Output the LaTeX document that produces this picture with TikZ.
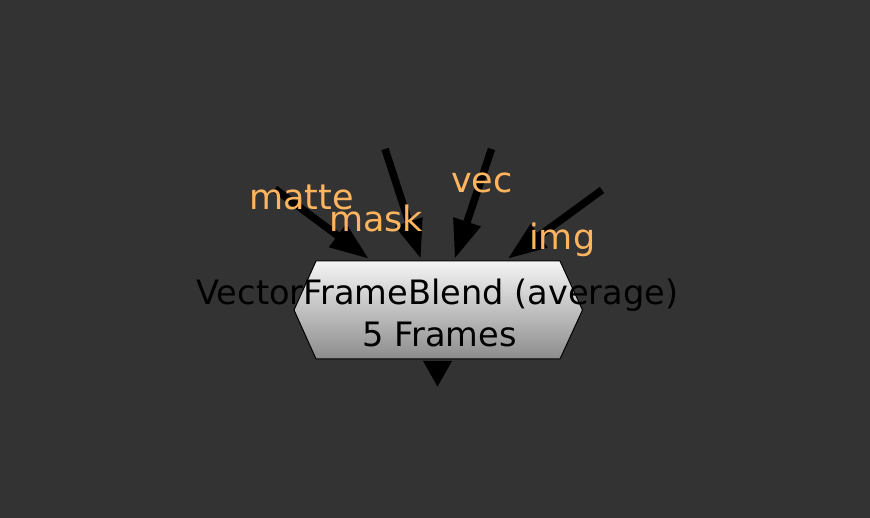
\documentclass[tikz,border=0pt]{standalone}
\usepackage{fontspec}
\setmainfont{DejaVu Sans}
\usetikzlibrary{arrows.meta}
\definecolor{bg}{RGB}{51,51,51}
\definecolor{lbl}{RGB}{255,181,96}
\definecolor{hextop}{RGB}{245,245,245}
\definecolor{hexbot}{RGB}{140,140,140}
\begin{document}
\begin{tikzpicture}[x=1pt,y=-1pt,
  edge/.style={line width=7.5pt, line cap=butt, -{Triangle[length=39pt,width=27pt]}},
  outedge/.style={line width=7.5pt, line cap=butt, -{Triangle[length=26pt,width=27pt]}},
  lab/.style={text=lbl, font=\fontsize{35}{40}\selectfont, anchor=base west, inner sep=0pt},
  maintxt/.style={text=black, font=\fontsize{33.6}{40}\selectfont, anchor=base, inner sep=0pt},
  hexbox/.style={rectangle, minimum width=250pt, minimum height=102pt, inner sep=0pt}]
\fill[bg] (0,0) rectangle (870,518);
\useasboundingbox (0,0) rectangle (870,518);
\node[hexbox] (blend) at (437.5,310) {};
\coordinate (matteS) at (275,189);
\coordinate (maskS) at (385,149);
\coordinate (vecS) at (491.5,149);
\coordinate (imgS) at (602,190);
\coordinate (out) at (437.5,387);
\draw[edge] (matteS) -- (blend);
\draw[edge] (maskS) -- (blend);
\draw[edge] (vecS) -- (blend);
\draw[edge] (imgS) -- (blend);
\draw[outedge] (blend) -- (out);
\shade[top color=hextop, bottom color=hexbot, draw=black, line width=1pt]
  (294,310) -- (316,261) -- (560,261) -- (582.5,310) -- (560,359) -- (316,359) -- cycle;
\node[maintxt] (line1) at (437.5,305) {VectorFrameBlend (average)};
\node[maintxt] (line2) at (439.5,347) {5 Frames};
\node[lab] (lmatte) at (249,210) {matte};
\node[lab] (lmask) at (329,232) {mask};
\node[lab] (lvec) at (451,193) {vec};
\node[lab] (limg) at (529,250) {img};
\end{tikzpicture}
\end{document}
